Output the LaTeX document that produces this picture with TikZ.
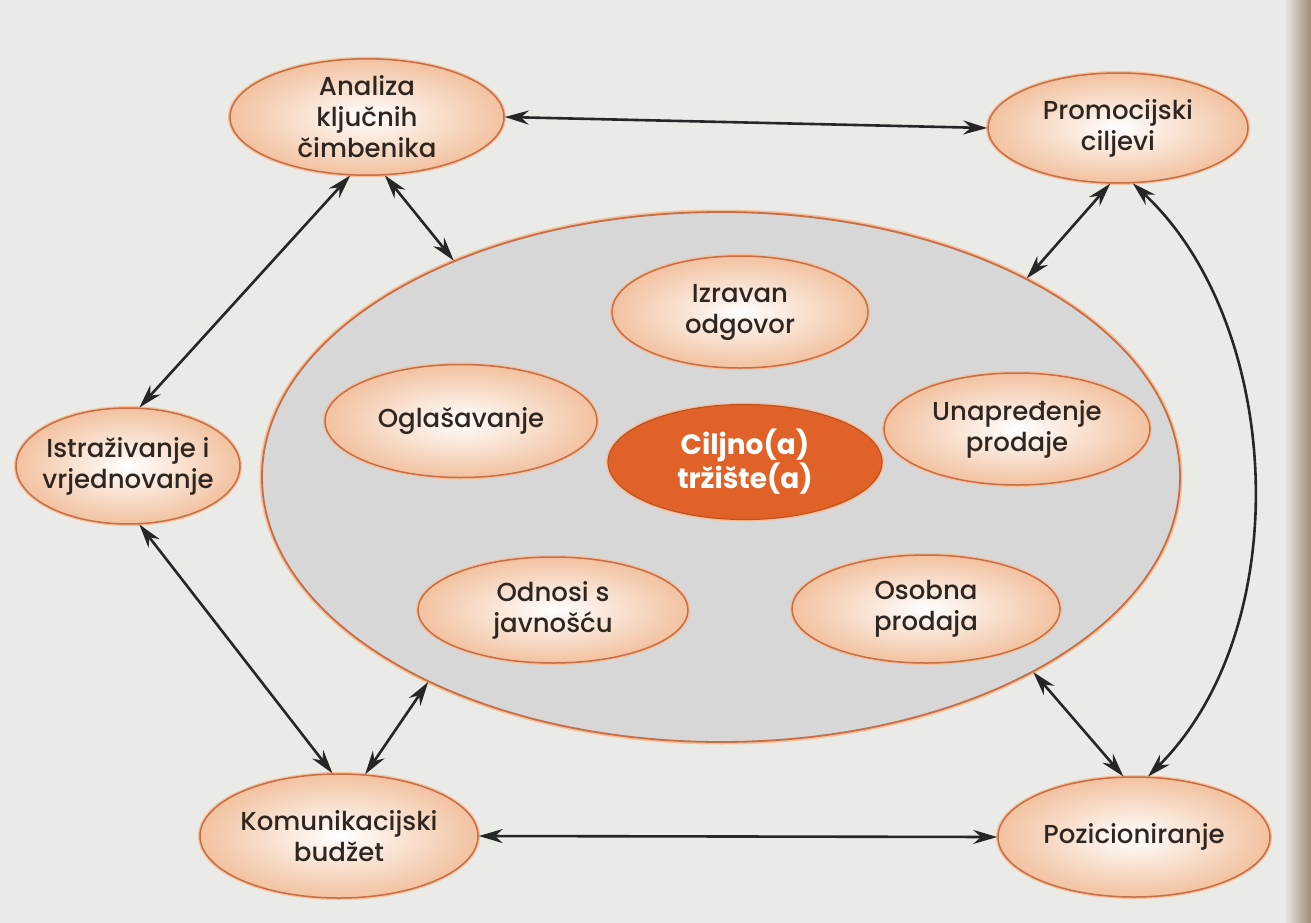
\documentclass[tikz,border=0pt]{standalone}
\usepackage{fontspec}
\setmainfont{Poppins}[UprightFont={* Medium},BoldFont={* Bold}]
\usepackage{tikz}
\usetikzlibrary{arrows.meta}
\usetikzlibrary{shapes.geometric}
\definecolor{paper}{RGB}{234,234,231}
\definecolor{spine}{RGB}{160,140,118}
\definecolor{pool}{RGB}{214,215,214}
\definecolor{rim}{RGB}{198,110,70}
\definecolor{halo}{RGB}{246,192,154}
\definecolor{peach}{RGB}{242,194,160}
\definecolor{flame}{RGB}{224,98,40}
\definecolor{ink}{RGB}{48,38,32}
\tikzstyle{stage} = [ellipse,inner xsep=-16pt,inner ysep=0pt,align=center,text=ink,
  preaction={draw=halo,line width=4pt},draw=rim,line width=1.5pt,
  inner color=white,outer color=peach,
  font=\fontsize{26}{31}\selectfont]
\tikzstyle{tool} = [stage]
\tikzstyle{market} = [ellipse,inner sep=0pt,align=center,text=white,
  preaction={draw=halo,line width=4pt},draw=flame!85!black,line width=1.2pt,
  fill=flame,font=\bfseries\fontsize{28}{31}\selectfont]
\tikzstyle{link} = [{Stealth[length=24pt,width=14pt]}-{Stealth[length=24pt,width=14pt]},
  draw=black!85,line width=2.6pt]

\begin{document}
\begin{tikzpicture}[x=1pt,y=-1pt]

% Paper and the page edge
    \useasboundingbox (0,0) rectangle (1311,923);
    \fill[paper] (0,0) rectangle (1311,923);
    \shade[left color=paper,right color=spine] (1284,0) rectangle (1311,923);

% The mix pool with its five tools
    \node[ellipse,draw=rim,line width=1.8pt,preaction={draw=halo,line width=5pt},
          fill=pool,minimum width=918,minimum height=530] at (721,477) (pool) {};
    \node[market,minimum width=274,minimum height=115] at (745,462) (target) {Ciljno(a)\\tržište(a)};
    \node[tool,minimum width=256,minimum height=112] at (740,312) (direct) {Izravan\\odgovor};
    \node[tool,minimum width=272,minimum height=113] at (461,421) (advert) {Oglašavanje};
    \node[tool,minimum width=266,minimum height=112] at (1017,429) (promo) {Unapređenje\\prodaje};
    \node[tool,minimum width=270,minimum height=106] at (553,610) (pr) {Odnosi s\\javnošću};
    \node[tool,minimum width=268,minimum height=108] at (926,609) (selling) {Osobna\\prodaja};

% Planning stages round the pool
    \node[stage,minimum width=274,minimum height=104] at (367,117) (analysis) {Analiza\\ključnih\\čimbenika};
    \node[stage,minimum width=260,minimum height=110] at (1118,128) (goals) {Promocijski\\ciljevi};
    \node[stage,minimum width=224,minimum height=116] at (128,466) (research) {Istraživanje i\\vrjednovanje};
    \node[stage,minimum width=278,minimum height=124] at (339,836) (budget) {Komunikacijski\\budžet};
    \node[stage,minimum width=272,minimum height=120] at (1134,837) (position) {Pozicioniranje};

% Two-way links
    \draw[link] (analysis.east) -- (goals.west);
    \draw[link] (analysis.254) -- (research.79);
    \draw[link] (analysis.287) -- (pool.141);
    \draw[link] (research.281) -- (budget.96);
    \draw[link] (budget.67) -- (pool.215);
    \draw[link] (budget.east) -- (position.west);
    \draw[link] (goals.262) -- (pool.33);
    \draw[link] (pool.-32) -- (position.100);
    \draw[link] (goals.285) .. controls +(150,140) and +(150,-150) .. (position.77);

\end{tikzpicture}
\end{document}
